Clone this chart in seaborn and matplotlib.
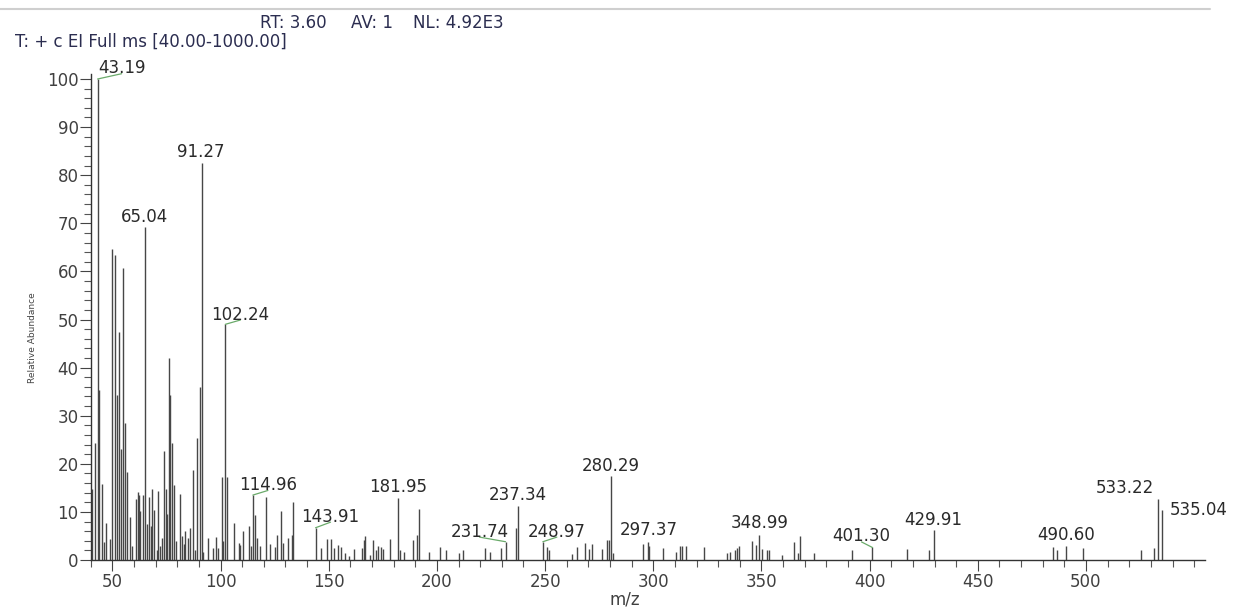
import matplotlib
matplotlib.use("Agg")
import matplotlib.pyplot as plt
from matplotlib.lines import Line2D
from matplotlib.ticker import MultipleLocator, FixedLocator
import seaborn as sns

# ---------------- data ----------------
mz = [40.8, 42.0, 43.19, 43.8, 45.0, 46.1, 47.2, 48.9, 50.0, 51.0, 52.0, 53.0, 54.0,
      55.0, 56.0, 57.0, 58.0, 59.0, 61.0, 62.0, 62.5, 63.0, 64.0, 65.04, 66.0, 67.0,
      67.7, 68.5, 69.2, 70.5, 71.2, 72.0, 73.0, 74.0, 74.8, 75.4, 76.0, 76.8, 77.7,
      78.3, 79.3, 81.2, 82.2, 83.0, 83.7, 84.8, 85.9, 87.4, 88.2, 89.2, 90.5, 91.27,
      92.0, 94.0, 96.6, 97.9, 99.0, 100.7, 101.3, 102.24, 102.8, 106.2, 108.4, 109.1,
      110.5, 113.3, 113.9, 114.96, 116.0, 117.0, 118.3, 121.0, 122.9, 125.2, 126.3,
      128.1, 129.1, 131.0, 133.0, 133.7, 143.91, 146.6, 149.1, 151.2, 152.3, 154.1,
      155.8, 157.7, 159.2, 161.8, 165.3, 166.1, 166.9, 168.9, 170.7, 171.8, 172.7,
      174.0, 175.3, 178.3, 181.95, 182.8, 184.7, 189.1, 190.8, 191.9, 196.2, 201.5,
      204.4, 210.3, 212.1, 222.1, 224.4, 229.8, 231.74, 236.4, 237.34, 248.97, 250.9,
      251.8, 262.6, 264.7, 268.3, 270.3, 271.7, 276.4, 278.8, 279.4, 280.29, 281.5,
      295.4, 297.37, 298.1, 304.3, 310.3, 312.3, 313.1, 315.1, 323.4, 334.3, 335.4,
      337.7, 338.8, 339.7, 345.8, 347.7, 348.99, 350.2, 352.4, 353.7, 359.7, 364.9,
      366.9, 367.7, 374.3, 392.0, 401.30, 417.5, 427.5, 429.91, 484.7, 486.7, 490.60,
      498.8, 525.5, 531.6, 533.22, 535.04]
abundance = [14.7, 24.3, 100.0, 35.3, 15.9, 3.8, 7.6, 4.3, 64.6, 63.5, 34.4, 47.5, 23.1,
             60.8, 28.4, 18.3, 9.0, 3.0, 12.7, 14.2, 13.5, 10.1, 13.5, 69.3, 7.5, 13.1,
             7.0, 14.7, 10.3, 2.0, 14.4, 3.0, 4.6, 22.7, 14.7, 9.6, 42.1, 34.4, 24.3,
             15.6, 4.0, 13.7, 5.0, 3.3, 6.0, 4.6, 6.6, 18.7, 2.0, 25.3, 35.9, 82.6,
             1.7, 4.5, 2.5, 4.8, 2.5, 17.3, 4.0, 49.0, 17.3, 7.6, 3.5, 3.1,
             6.1, 7.1, 2.9, 13.5, 9.4, 4.5, 2.9, 13.2, 3.3, 2.6, 5.1,
             10.2, 3.6, 4.5, 5.2, 12.0, 6.7, 2.4, 4.3, 4.3, 2.4, 3.1,
             2.8, 1.5, 0.8, 2.2, 2.4, 4.2, 5.0, 1.0, 4.2, 2.1, 2.9,
             2.8, 2.2, 4.3, 12.8, 2.1, 1.6, 4.2, 5.2, 10.5, 1.7, 2.6,
             2.1, 1.5, 2.0, 2.4, 1.7, 2.4, 3.8, 6.6, 11.2, 3.8, 2.6,
             2.1, 1.2, 2.8, 3.6, 2.2, 3.3, 2.2, 4.2, 4.2, 17.5, 1.4,
             3.3, 3.8, 2.9, 2.4, 1.7, 2.9, 2.9, 2.9, 2.6, 1.5, 1.7,
             2.0, 2.4, 2.9, 4.0, 3.1, 5.2, 2.2, 2.0, 2.0, 1.0, 3.8,
             1.5, 5.0, 1.5, 2.1, 2.6, 2.2, 2.0, 6.2, 2.6, 2.0, 2.9,
             2.4, 2.1, 2.4, 12.6, 10.4]

labelled_mz = [43.19, 65.04, 91.27, 102.24, 114.96, 143.91, 181.95, 231.74, 237.34,
               248.97, 280.29, 297.37, 348.99, 401.30, 429.91, 490.60, 533.22, 535.04]

x_tick_values = [50, 100, 150, 200, 250, 300, 350, 400, 450, 500]
header_rt = "RT: 3.60"
header_av = "AV: 1"
header_nl = "NL: 4.92E3"
header_scan = "T: + c EI Full ms [40.00-1000.00]"
x_title = "m/z"
y_title = "Relative Abundance"

# label placement (pixel offsets from peak top; leader flag)
label_layout = {
    43.19: (24, 5.7, True), 65.04: (-0.7, 5, False), 91.27: (-1, 6, False),
    102.24: (15, 4.7, True), 114.96: (15, 5, True), 143.91: (15, 6, True),
    181.95: (0, 6.7, False), 231.74: (-26, 5, True), 237.34: (0, 6, False),
    248.97: (14, 5, True), 280.29: (0, 5.3, False), 297.37: (1, 6.7, False),
    348.99: (0, 6.7, False), 401.30: (-11, 6, True), 429.91: (-1, 5, False),
    490.60: (0, 6, False), 533.22: (-33, 6, False), 535.04: (37, -5, False),
}

# ---------------- figure ----------------
sns.set_theme(style="white")
plt.rcParams["font.family"] = ["DejaVu Sans"]

W, H = 1235, 609
fig = plt.figure(figsize=(W / 100, H / 100), dpi=100)
fig.patch.set_facecolor("white")

def fx(x):
    return x / W

def fy(y):
    return 1 - y / H

ax_left, ax_right, ax_top, ax_bottom = 90.7, 1205, 74.2, 560
ax = fig.add_axes([fx(ax_left), fy(ax_bottom), (ax_right - ax_left) / W, (ax_bottom - ax_top) / H])
ax.set_facecolor("white")

ax.vlines(mz, 0, abundance, colors="#474747", linewidth=1.0)

ax.set_xlim(40, 555)
ax.set_ylim(0, 101)
ax.xaxis.set_major_locator(FixedLocator(x_tick_values))
ax.xaxis.set_minor_locator(MultipleLocator(10))
ax.yaxis.set_major_locator(MultipleLocator(10))
ax.yaxis.set_minor_locator(MultipleLocator(2))
ax.set_xticklabels([str(t) for t in x_tick_values])

sns.despine(ax=ax, top=True, right=True)
for side in ("left", "bottom"):
    ax.spines[side].set_color("#333333")
    ax.spines[side].set_linewidth(1.0)

ax.tick_params(axis="y", which="major", direction="out", left=True, length=7.7, width=0.8,
               color="#444444", labelsize=12, labelcolor="#404040", pad=1)
ax.tick_params(axis="y", which="minor", direction="out", left=True, length=4.8, width=0.8,
               color="#555555")
ax.tick_params(axis="x", which="major", direction="out", bottom=True, length=8, width=0.8,
               color="#444444", labelsize=12, labelcolor="#404040", pad=1.7)
ax.tick_params(axis="x", which="minor", direction="out", bottom=True, length=5.3, width=0.8,
               color="#555555")
ax.set_xlim(40, 555)
ax.grid(False)

# peak labels
ab_of = dict(zip(mz, abundance))
for m in labelled_mz:
    dx, dy, leader = label_layout[m]
    kw = {}
    if leader:
        kw["arrowprops"] = dict(arrowstyle="-", color="#6aaa6a", lw=0.9,
                                shrinkA=0, shrinkB=0, relpos=(0.5, 0.2))
    ax.annotate(f"{m:.2f}", xy=(m, ab_of[m]), xytext=(dx / 1.389, dy / 1.389),
                textcoords="offset points", ha="center", va="baseline",
                fontsize=12, color="#2a2a2a", annotation_clip=False, **kw)

# headers
hdr_color = "#2b2d50"
fig.text(fx(260), fy(28), header_rt, fontsize=12, color=hdr_color, va="baseline", ha="left")
fig.text(fx(351), fy(28), header_av, fontsize=12, color=hdr_color, va="baseline", ha="left")
fig.text(fx(413), fy(28), header_nl, fontsize=12, color=hdr_color, va="baseline", ha="left")
fig.text(fx(15), fy(47), header_scan, fontsize=12, color=hdr_color, va="baseline", ha="left")

# top rule
fig.add_artist(Line2D([fx(0), fx(1210)], [fy(9), fy(9)], color="#cfcfcf", lw=1.5,
                      transform=fig.transFigure))

# axis titles
fig.text(fx(32.5), fy(337.5), y_title, rotation=90, fontsize=6.5, color="#444444",
         ha="center", va="center")
fig.text(fx(625), fy(608.5), x_title, fontsize=12, color="#404040", ha="center", va="bottom")

fig.savefig("out.png", dpi=100, facecolor="white")
